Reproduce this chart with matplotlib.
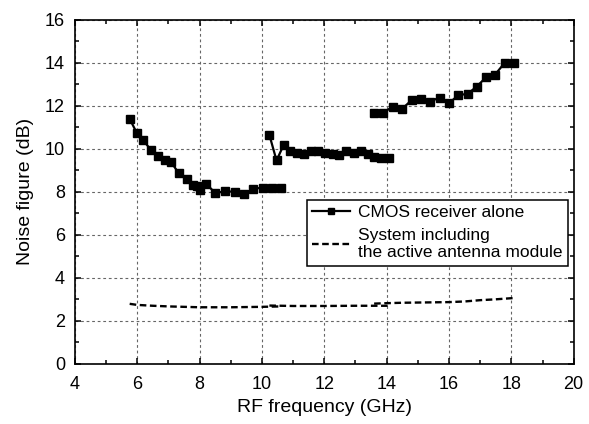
import matplotlib
matplotlib.use('Agg')
import matplotlib.pyplot as plt
from matplotlib.ticker import MultipleLocator

plt.rcParams['font.family'] = ['Liberation Sans', 'DejaVu Sans']

# CMOS receiver alone, three measured bands
cmos_f1 = [5.76, 5.98, 6.20, 6.43, 6.66, 6.88, 7.08, 7.33, 7.59, 7.79, 7.93, 8.00,
           8.22, 8.51, 8.82, 9.13, 9.42, 9.73, 10.03, 10.33, 10.61]
cmos_nf1 = [11.40, 10.76, 10.39, 9.97, 9.69, 9.49, 9.41, 8.87, 8.60, 8.33, 8.25, 8.09,
            8.36, 7.94, 8.03, 8.00, 7.89, 8.15, 8.19, 8.19, 8.19]
cmos_f2 = [10.24, 10.47, 10.70, 10.90, 11.13, 11.34, 11.57, 11.81, 12.04, 12.27,
           12.48, 12.71, 12.94, 13.17, 13.39, 13.60, 13.81, 14.08]
cmos_nf2 = [10.65, 9.46, 10.19, 9.91, 9.83, 9.75, 9.92, 9.88, 9.80, 9.75,
            9.71, 9.88, 9.80, 9.88, 9.75, 9.60, 9.57, 9.57]
cmos_f3 = [13.60, 13.89, 14.21, 14.49, 14.81, 15.10, 15.39, 15.70, 16.00, 16.30,
           16.60, 16.89, 17.19, 17.47, 17.79, 18.08]
cmos_nf3 = [11.66, 11.69, 11.97, 11.85, 12.28, 12.34, 12.20, 12.39, 12.12, 12.50,
            12.56, 12.90, 13.33, 13.44, 14.01, 13.98]

# system including the active antenna module
sys_f1 = [5.76, 6.0, 6.5, 7.0, 7.5, 8.0, 8.5, 9.0, 9.5, 10.0, 10.6]
sys_nf1 = [2.79, 2.74, 2.70, 2.67, 2.65, 2.63, 2.63, 2.63, 2.64, 2.65, 2.67]
sys_f2 = [10.24, 11.0, 12.0, 13.0, 14.08]
sys_nf2 = [2.71, 2.69, 2.69, 2.70, 2.70]
sys_f3 = [13.6, 14.0, 14.5, 15.0, 15.5, 16.0, 16.5, 17.0, 17.5, 18.08]
sys_nf3 = [2.80, 2.82, 2.84, 2.85, 2.86, 2.87, 2.90, 2.96, 3.00, 3.06]

fig = plt.figure(figsize=(5.89, 4.24), dpi=100)
ax = fig.add_axes([0.127, 0.142, 0.847, 0.811])

mk = dict(color='black', lw=1.6, marker='s', ms=5.5, mfc='black', mec='black')
ax.plot(cmos_f1, cmos_nf1, label='CMOS receiver alone', **mk)
ax.plot(cmos_f2, cmos_nf2, **mk)
ax.plot(cmos_f3, cmos_nf3, **mk)

ds = dict(color='black', lw=1.7, linestyle=(0, (2.8, 1.5)))
ax.plot(sys_f1, sys_nf1, label='System including\nthe active antenna module', **ds)
ax.plot(sys_f2, sys_nf2, **ds)
ax.plot(sys_f3, sys_nf3, **ds)

ax.set_xlim(4, 20)
ax.set_ylim(0, 16)
ax.xaxis.set_major_locator(MultipleLocator(2))
ax.xaxis.set_minor_locator(MultipleLocator(1))
ax.yaxis.set_major_locator(MultipleLocator(2))
ax.yaxis.set_minor_locator(MultipleLocator(1))
ax.tick_params(which='both', direction='in', top=True, right=True, labelsize=13, width=1.1)
ax.tick_params(which='major', length=4.5)
ax.tick_params(which='minor', length=3)
ax.tick_params(axis='x', pad=9)
ax.tick_params(axis='y', pad=7)
for s in ax.spines.values():
    s.set_linewidth(1.2)
ax.grid(True, which='major', color='0.4', lw=0.8, linestyle=(0, (2.5, 2.5)))

ax.set_xlabel('RF frequency (GHz)', fontsize=14, labelpad=4)
ax.set_ylabel('Noise figure (dB)', fontsize=14, labelpad=8)

leg = ax.legend(loc='upper left', bbox_to_anchor=(0.465, 0.477), borderaxespad=0,
                fontsize=12.5, frameon=True, fancybox=False, edgecolor='black',
                framealpha=1, handlelength=2.2, handletextpad=0.45, borderpad=0.3,
                labelspacing=0.45, markerscale=0.9)
leg.get_frame().set_linewidth(1.1)

fig.savefig('out.png', dpi=100)
